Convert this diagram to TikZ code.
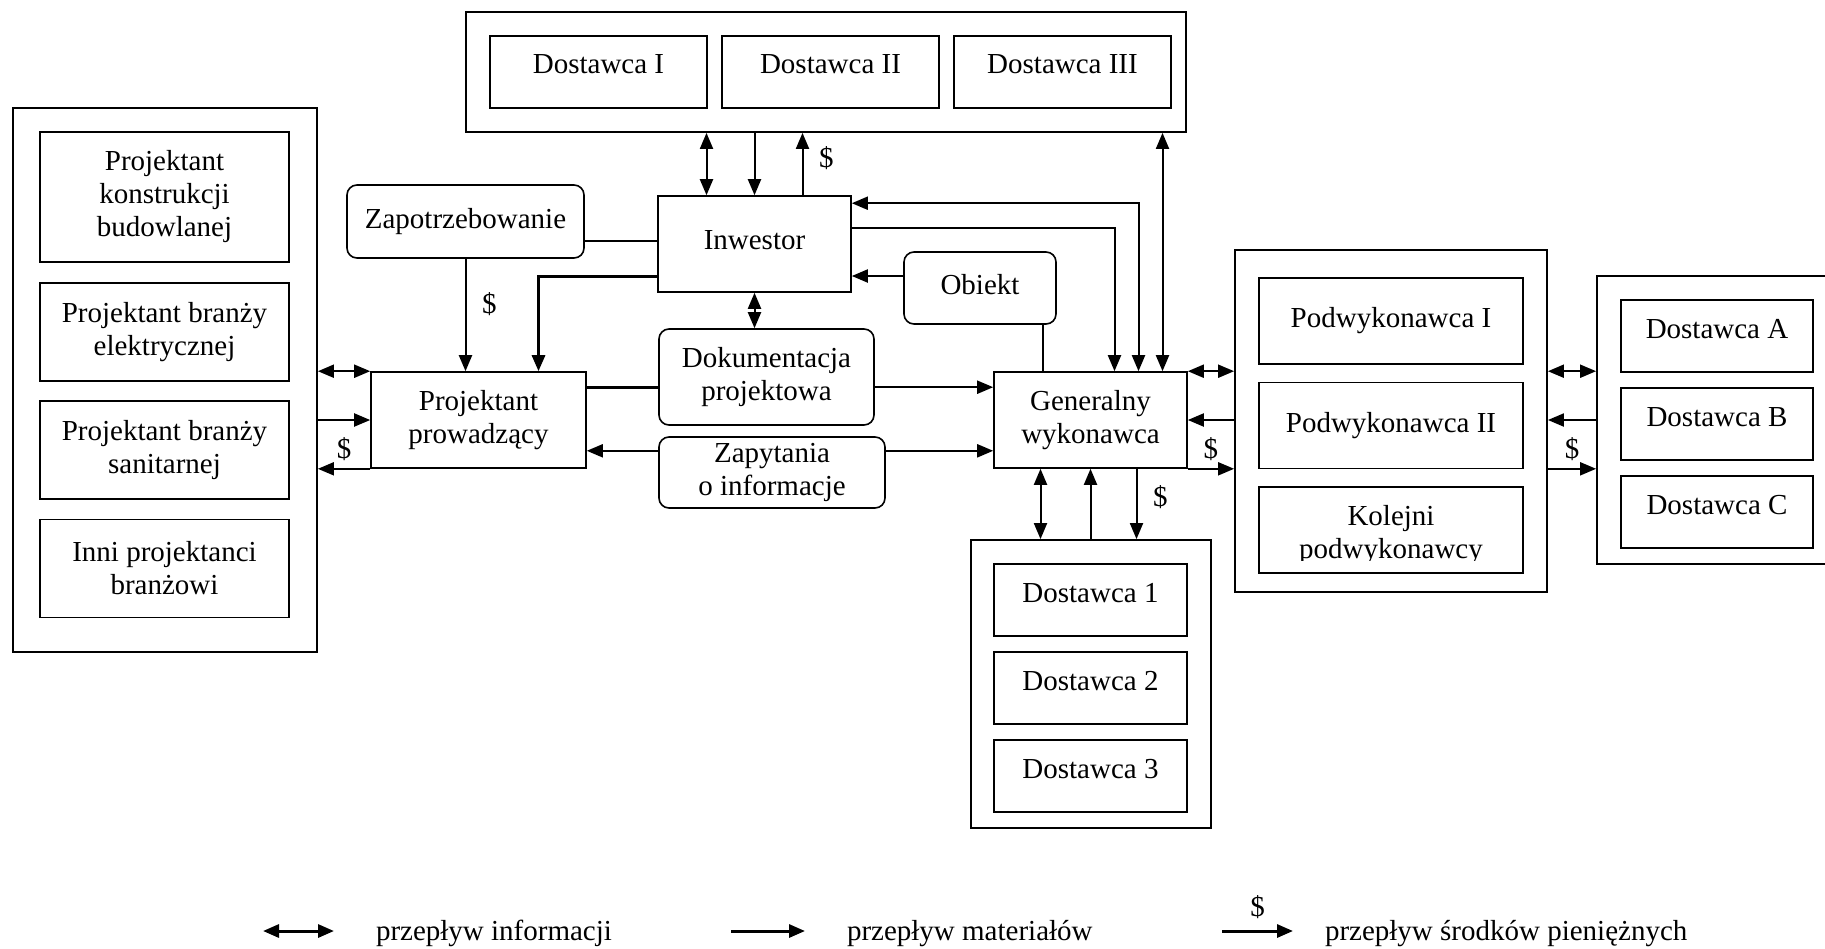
\documentclass[tikz,border=0pt]{standalone}
\usepackage{fontspec}
\setmainfont{Liberation Serif}
\usetikzlibrary{arrows.meta}

\begin{document}
\begin{tikzpicture}[x=0.5pt,y=-0.5pt,
    font=\fontsize{14.5pt}{16.5pt}\selectfont,
    >={Triangle[length=8pt,width=6.5pt]},
    line width=1pt,
    box/.style={draw,line width=0.8pt,inner sep=0pt,align=center},
    roundbox/.style={box,rounded corners=5pt},
    supplier/.style={box,text depth=7.5pt},
    group/.style={draw,line width=0.9pt,inner sep=0pt},
    heavy/.style={line width=1.5pt},
    light/.style={line width=0.8pt},
    legendtext/.style={anchor=base west,inner sep=0pt}]
\useasboundingbox (0,0) rectangle (1825,948);
% dostawcy inwestora
\path (826,72) node [group,minimum width=360pt,minimum height=60pt] (topgroup) {};
\path
    [minimum width=108.5pt,minimum height=36pt]
    (598.5,72) node [supplier] (dostI) {Dostawca I}
    (830.5,72) node [supplier] (dostII) {Dostawca II}
    (1062.5,72) node [supplier] (dostIII) {Dostawca III};
% projektanci branzowi
\path (165,380) node [group,minimum width=152pt,minimum height=272pt] (leftgroup) {};
\path
    [minimum width=124.5pt,minimum height=49pt]
    (164.5,197) node [box,minimum height=65pt] (pk) {Projektant\\konstrukcji\\budowlanej}
    (164.5,332) node [box] (pe) {Projektant branży\\elektrycznej}
    (164.5,450) node [box] (ps) {Projektant branży\\sanitarnej}
    (164.5,568.5) node [box] (pi) {Inni projektanci\\branżowi};
% uczestnicy glowni
\path
    (465.5,221.5) node [roundbox,minimum width=118.5pt,minimum height=36.5pt] (zap) {Zapotrzebowanie}
    (754.5,244) node [box,text depth=4pt,minimum width=96.5pt,minimum height=48pt] (inw) {Inwestor}
    (980,288) node [roundbox,text depth=4pt,minimum width=76pt,minimum height=36pt] (obiekt) {Obiekt}
    (478.5,420) node [box,minimum width=107.5pt,minimum height=48pt] (pp) {Projektant\\prowadzący}
    (766.5,377) node [roundbox,minimum width=107.5pt,minimum height=48pt] (dok) {Dokumentacja\\projektowa}
    (772,472.5) node [roundbox,minimum width=113pt,minimum height=35.5pt] (zapyt) {Zapytania\\o informacje}
    (1090.5,420) node [box,minimum width=96.5pt,minimum height=48pt] (gw) {Generalny\\wykonawca};
% dostawcy generalnego wykonawcy
\path (1091,684) node [group,minimum width=120pt,minimum height=144pt] (botgroup) {};
\path
    [minimum width=96.5pt,minimum height=36pt]
    (1090.5,600) node [supplier] (dost1) {Dostawca 1}
    (1090.5,688) node [supplier] (dost2) {Dostawca 2}
    (1090.5,776) node [supplier] (dost3) {Dostawca 3};
% podwykonawcy
\path (1391,421) node [group,minimum width=156pt,minimum height=171pt] (podgroup) {};
\path
    [minimum width=132pt,minimum height=43pt]
    (1391,321) node [box] (pod1) {Podwykonawca I}
    (1391,425.5) node [box] (pod2) {Podwykonawca II}
    (1391,530) node [box] (pod3) {};
\begin{scope}
\clip (pod3.north west) rectangle ([yshift=6.5pt]pod3.south east);
\node [inner sep=0pt,align=center] (pod3text) at (1391,535) {Kolejni\\podwykonawcy};
\end{scope}
% dostawcy podwykonawcow
\path (1717,420) node [group,minimum width=120pt,minimum height=144pt] (rightgroup) {};
\path
    [minimum width=96pt,minimum height=36pt]
    (1717,336) node [supplier] (dostA) {Dostawca A}
    (1717,424) node [supplier] (dostB) {Dostawca B}
    (1717,512) node [supplier] (dostC) {Dostawca C};
% inwestor -- dostawcy
\draw [<->] ([xshift=-24pt]inw.north) -- ([xshift=-24pt]inw.north |- topgroup.south);
\draw [->] (inw.north |- topgroup.south) -- (inw.north);
\draw [->] ([xshift=24pt]inw.north) -- ([xshift=24pt]inw.north |- topgroup.south)
    node [pos=0.6,right=4.5pt] (cashtop) {\$};
% inwestor -- generalny wykonawca
\draw [<->] ([yshift=-4pt]inw.north east) -| ([xshift=24pt]gw.north);
\draw [->] ([yshift=8pt]inw.east) -| ([xshift=12pt]gw.north);
\draw [<->] ([xshift=36pt]gw.north) -- ([xshift=36pt]gw.north |- topgroup.south);
\draw [<-] ([yshift=-16pt]inw.east) -- ([yshift=-16pt]inw.east -| obiekt.west);
\draw [light] ([xshift=-7pt]obiekt.south east) -- ([xshift=-7pt]obiekt.south east |- gw.north);
% inwestor -- projektant
\draw [light] ([yshift=1.5pt]inw.west) -- ([yshift=1.5pt]inw.west -| zap.east);
\draw [->] (zap.south) -- (zap.south |- pp.north)
    node [pos=0.4,right=4.5pt] (cashzap) {\$};
\draw [heavy,->] ([yshift=8pt]inw.south west) -| ([xshift=30pt]pp.north);
% dokumentacja i zapytania
\draw [<->] (inw.south) -- (inw.south |- dok.north);
\draw [heavy] ([yshift=-8pt]pp.north east) -- ([yshift=-8pt]pp.north east -| dok.west);
\draw [->] ([yshift=-8pt]gw.north west -| dok.east) -- ([yshift=-8pt]gw.north west);
\draw [->] ([yshift=9pt]pp.south east -| zapyt.west) -- ([yshift=9pt]pp.south east);
\draw [->] ([yshift=9pt]gw.south west -| zapyt.east) -- ([yshift=9pt]gw.south west);
% projektant -- projektanci branzowi
\draw [<->] (pp.north west -| leftgroup.east) -- (pp.north west);
\draw [->] (pp.west -| leftgroup.east) -- (pp.west);
\draw [->] (pp.south west) -- (pp.south west -| leftgroup.east)
    node [midway,above] (cashleft) {\$};
% generalny wykonawca -- podwykonawcy
\draw [<->] (gw.north east) -- (gw.north east -| podgroup.west);
\draw [<-] (gw.east) -- (gw.east -| podgroup.west);
\draw [->] (gw.south east) -- (gw.south east -| podgroup.west)
    node [midway,above] (cashpod) {\$};
% podwykonawcy -- dostawcy
\draw [<->] (podgroup.east |- gw.north) -- (rightgroup.west |- gw.north);
\draw [<-] (podgroup.east |- gw.east) -- (rightgroup.west |- gw.east);
\draw [->] (podgroup.east |- gw.south) -- (rightgroup.west |- gw.south)
    node [midway,above] (cashright) {\$};
% generalny wykonawca -- dostawcy
\draw [<->] ([xshift=-25pt]gw.south) -- ([xshift=-25pt]gw.south |- botgroup.north);
\draw [<-] (gw.south) -- (gw.south |- botgroup.north);
\draw [->] ([xshift=23pt]gw.south) -- ([xshift=23pt]gw.south |- botgroup.north)
    node [pos=0.4,right=4.5pt] (cashbot) {\$};
% legenda
\coordinate (infoA) at (263,931);
\coordinate (infoB) at (334,931);
\coordinate (matA) at (731,931);
\coordinate (matB) at (805,931);
\coordinate (cashA) at (1222,931);
\coordinate (cashB) at (1293,931);
\draw [heavy,<->] (infoA) -- (infoB);
\draw [heavy,->] (matA) -- (matB);
\draw [heavy,->] (cashA) -- (cashB) node [midway,above=2pt] (cashlegend) {\$};
\node [legendtext] (infotext) at (375,940) {przepływ informacji};
\node [legendtext] (mattext) at (846,940) {przepływ materiałów};
\node [legendtext] (cashtext) at (1324,940) {przepływ środków pieniężnych};
\end{tikzpicture}
\end{document}
